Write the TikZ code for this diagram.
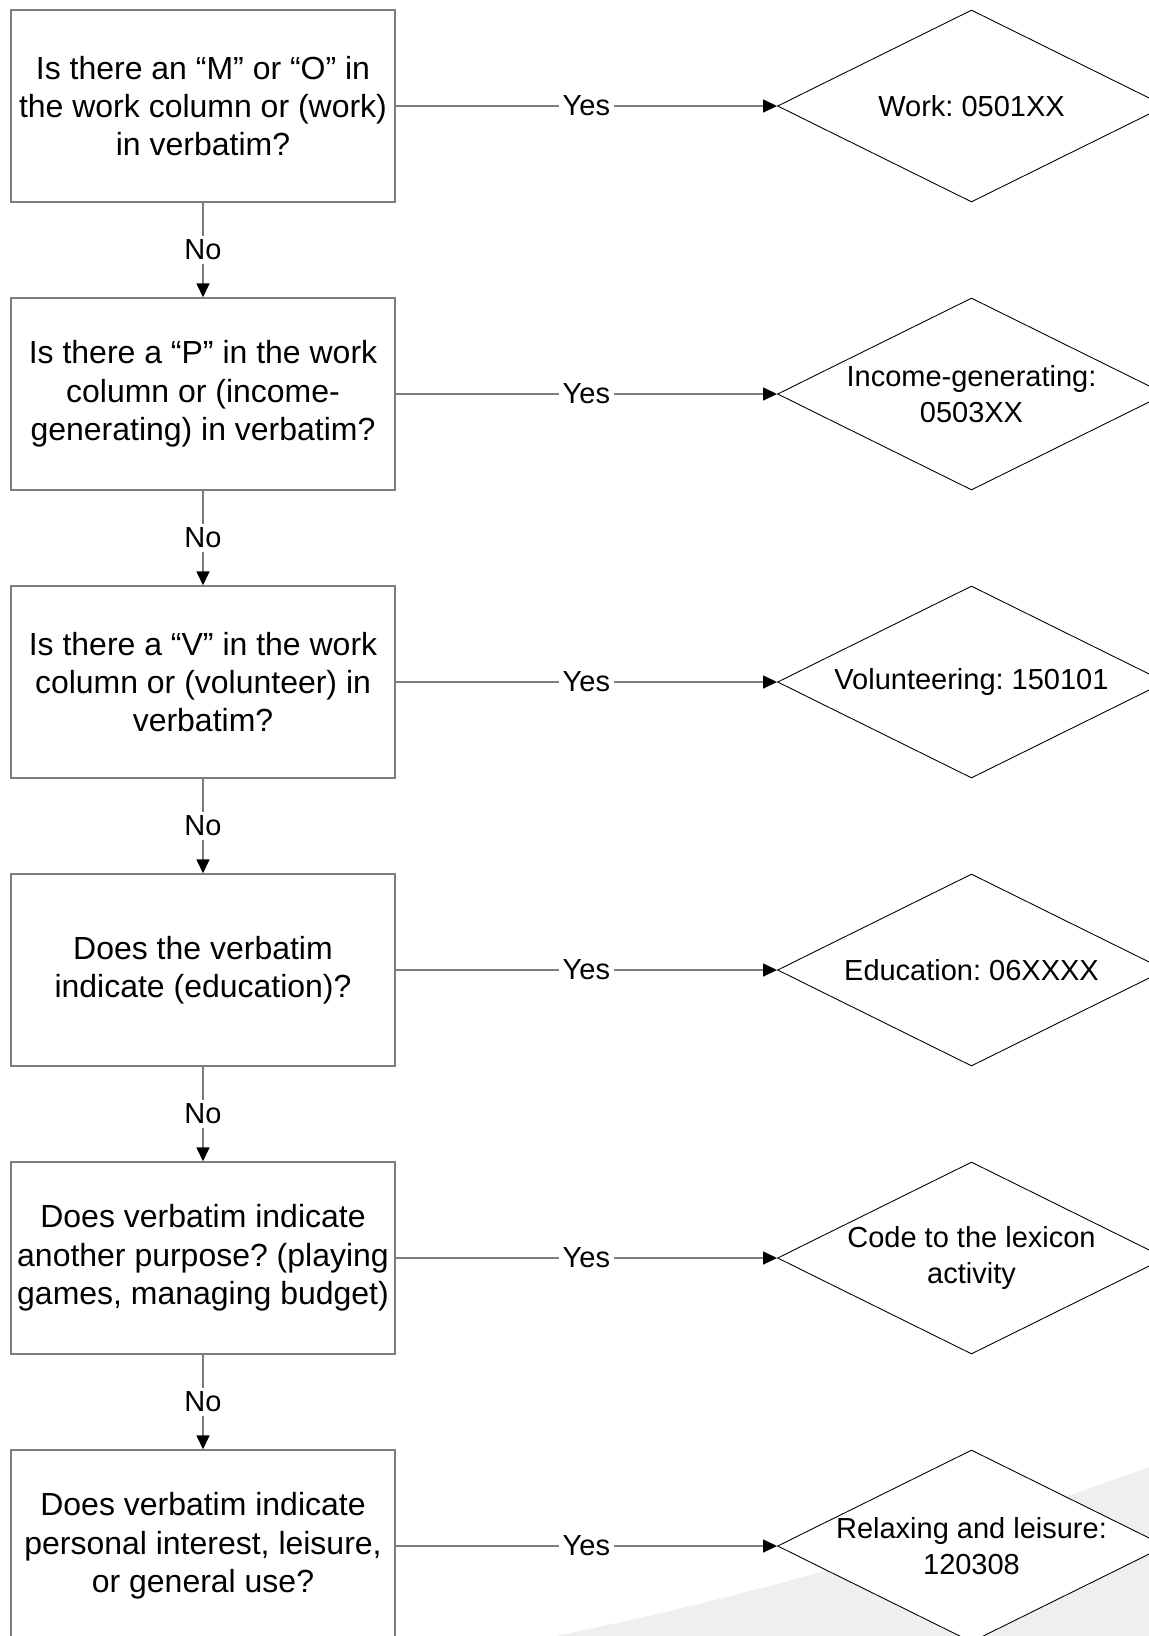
\documentclass[tikz,border=0pt]{standalone}
\usepackage{fontspec}
\setmainfont{Liberation Sans}
\usepackage{xcolor}
\usepackage{tikz}
\definecolor{linegray}{RGB}{125,125,125}
\definecolor{swooshgray}{RGB}{239,239,239}
\usetikzlibrary{shapes.geometric, arrows.meta}
\frenchspacing

\tikzset{
	question/.style = {draw = linegray, line width = 0.8pt, rectangle, fill = white, minimum width = 7.68cm, minimum height = 3.84cm, align = center, font = \fontsize{18.2}{21.8}\selectfont},
	answer/.style = {draw = black, line width = 0.5pt, diamond, fill = white, shape aspect = 2.02, minimum width = 7.76cm, minimum height = 3.84cm, inner xsep = -0.3cm, inner ysep = 0pt, align = center, font = \fontsize{16.5}{20.5}\selectfont},
	flow/.style = {draw = linegray, line width = 0.8pt, -{Triangle[black, length = 0.28cm, width = 0.26cm]}},
	lbl/.style = {fill = white, inner sep = 2pt, font = \fontsize{16.5}{19}\selectfont}
}

\begin{document}
\begin{tikzpicture}
	\useasboundingbox (0,0) rectangle (22.98,-32.72);
	\fill[swooshgray] (11.1,-32.72) .. controls (14.5,-32.05) and (19,-30.8) .. (22.98,-29.34) -- (22.98,-32.72) -- cycle;
	
	\node[question, xshift = 4.06cm, yshift = -2.12cm] (work) {Is there an “M” or “O” in\\the work column or (work)\\in verbatim?};
	\node[question, xshift = 4.06cm, yshift = -7.88cm] (income) {Is there a “P” in the work\\column or (income-\\generating) in verbatim?};
	\node[question, xshift = 4.06cm, yshift = -13.64cm] (volunteer) {Is there a “V” in the work\\column or (volunteer) in\\verbatim?};
	\node[question, xshift = 4.06cm, yshift = -19.40cm] (educ) {Does the verbatim\\indicate (education)?};
	\node[question, xshift = 4.06cm, yshift = -25.16cm] (purpose) {Does verbatim indicate\\another purpose? (playing\\games, managing budget)};
	\node[question, xshift = 4.06cm, yshift = -30.92cm] (leisure) {Does verbatim indicate\\personal interest, leisure,\\or general use?};
	
	\node[answer, xshift = 19.43cm, yshift = -2.12cm] (workcode) {Work: 0501XX};
	\node[answer, xshift = 19.43cm, yshift = -7.88cm] (incomecode) {Income-generating:\\0503XX};
	\node[answer, xshift = 19.43cm, yshift = -13.64cm] (volunteercode) {Volunteering: 150101};
	\node[answer, xshift = 19.43cm, yshift = -19.40cm] (educcode) {Education: 06XXXX};
	\node[answer, xshift = 19.43cm, yshift = -25.16cm] (purposecode) {Code to the lexicon\\activity};
	\node[answer, xshift = 19.43cm, yshift = -30.92cm] (leisurecode) {Relaxing and leisure:\\120308};
	
	\draw[flow] (work) -- node[lbl] {Yes} (workcode);
	\draw[flow] (income) -- node[lbl] {Yes} (incomecode);
	\draw[flow] (volunteer) -- node[lbl] {Yes} (volunteercode);
	\draw[flow] (educ) -- node[lbl] {Yes} (educcode);
	\draw[flow] (purpose) -- node[lbl] {Yes} (purposecode);
	\draw[flow] (leisure) -- node[lbl] {Yes} (leisurecode);
	
	\draw[flow] (work) -- node[lbl] {No} (income);
	\draw[flow] (income) -- node[lbl] {No} (volunteer);
	\draw[flow] (volunteer) -- node[lbl] {No} (educ);
	\draw[flow] (educ) -- node[lbl] {No} (purpose);
	\draw[flow] (purpose) -- node[lbl] {No} (leisure);
	
\end{tikzpicture}
\end{document}
